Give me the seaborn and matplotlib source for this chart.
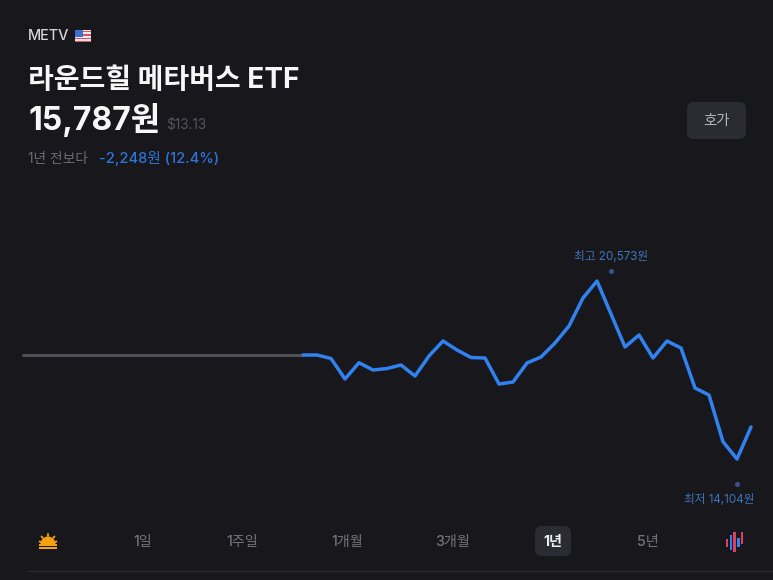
import pandas as pd
import matplotlib.pyplot as plt
from matplotlib.patches import FancyBboxPatch, Rectangle, Wedge
import seaborn as sns

BG = "#17171c"
BLUE = "#3182f0"
LABEL_BLUE = "#3f74ba"
GRAY_TEXT = "#6b6b73"

before_values = [18035] * 21
year_values = [
    18035, 18035, 17926, 17286, 17794, 17566, 17613, 17723, 17379, 18004,
    18472, 18191, 17957, 17941, 17129, 17192, 17785, 17972, 18409, 18940,
    19814, 20345, 19315, 18285, 18659, 17941, 18472, 18253, 17005, 16786,
    15328, 14788, 15787,
]
tab_labels = ["1일", "1주일", "1개월", "3개월", "1년", "5년"]
tab_centers = [143, 242, 347, 453, 553, 648]
candle_colors = ["#e0405e", "#3182f0", "#e0405e", "#3182f0", "#e0405e"]

W, H = 773, 580
sns.set_theme(style="dark", rc={"figure.facecolor": BG, "axes.facecolor": BG})
plt.rcParams["font.family"] = ["Inter", "Noto Sans CJK KR", "DejaVu Sans"]

fig = plt.figure(figsize=(W / 100, H / 100), dpi=100)

# price chart, spans the whole width
ax = fig.add_axes([0, (H - 510) / H, 1, 320 / H])
before = pd.DataFrame({"i": range(len(before_values)), "v": before_values})
year = pd.DataFrame({"i": range(20, 20 + len(year_values)), "v": year_values})
sns.lineplot(data=before, x="i", y="v", ax=ax, color="#4f4f56", lw=2.2)
sns.lineplot(data=year, x="i", y="v", ax=ax, color=BLUE, lw=2.5)
ax.set_xlim(-23 / 14, 750 / 14)
ax.set_ylim(13196, 23186)
ax.axis("off")

hi = year.loc[year["v"].idxmax()]
lo = year.loc[year["v"].idxmin()]
ax.annotate("최고 20,573원", (hi["i"], hi["v"]), xytext=(10, 17.6), textcoords="offset points",
            ha="center", va="center", color=LABEL_BLUE, fontsize=8.4)
ax.plot(hi["i"] + 1, hi["v"] + 10 * 31.22, "o", ms=2.6, color="#35558a")
ax.plot(lo["i"], lo["v"] - 25 * 31.22, "o", ms=2.6, color="#35558a")
ax.annotate("최저 14,104원", (lo["i"], lo["v"]), xytext=(-13, -29.8), textcoords="offset points",
            ha="center", va="center", color=LABEL_BLUE, fontsize=8.4)

# overlay in pixel coordinates for the app chrome
ui = fig.add_axes([0, 0, 1, 1], facecolor="none")
ui.set_xlim(0, W)
ui.set_ylim(H, 0)
ui.axis("off")

ui.text(28, 36.5, "METV", color="#d4d4d8", fontsize=10.4, va="center", fontweight="medium")
# flag
ui.add_patch(Rectangle((75, 30), 16, 12, color="#e9e9ee", lw=0))
for y in (30.5, 34, 37.5, 40.5):
    ui.add_patch(Rectangle((75, y), 16, 1.5, color="#e4525e", lw=0))
ui.add_patch(Rectangle((75, 30), 8, 6.5, color="#3f6fd0", lw=0))

ui.text(28, 80.5, "라운드힐 메타버스 ETF", color="#f7f7f8", fontsize=20.2, va="center", fontweight="bold")
ui.text(28, 120, "15,787원", color="#f7f7f8", fontsize=23, va="center", fontweight="bold")
ui.text(166, 124.5, "$13.13", color="#55555c", fontsize=9.8, va="center")
ui.text(28, 159, "1년 전보다", color=GRAY_TEXT, fontsize=9.9, va="center")
ui.text(99, 159, "-2,248원 (12.4%)", color="#2f74d8", fontsize=10.6, va="center", fontweight="medium")

# 호가 button
ui.add_patch(FancyBboxPatch((691, 106), 51, 29, boxstyle="round,pad=4,rounding_size=7",
                            fc="#2b2c33", ec="none"))
ui.text(716.5, 120.5, "호가", color="#b4b4ba", fontsize=10.4, ha="center", va="center", fontweight="medium")

# range tabs
ui.add_patch(FancyBboxPatch((539, 530), 28, 22, boxstyle="round,pad=4,rounding_size=7",
                            fc="#2b2c33", ec="none"))
for label, cx in zip(tab_labels, tab_centers):
    active = label == "1년"
    ui.text(cx, 542, label, color="#f0f0f2" if active else "#737379", fontsize=10.2, ha="center",
            va="center", fontweight="bold" if active else "medium")

# sunrise icon
ui.add_patch(Wedge((48, 544), 7.5, 180, 360, fc="#f5a20c", ec="none"))
ui.add_patch(Rectangle((39, 544), 18, 1.8, color="#f5a20c", lw=0))
ui.add_patch(Rectangle((39, 547), 18, 1.8, color="#f5a20c", lw=0))
for x0, y0, x1, y1 in [(48, 534, 48, 535.5), (41.5, 536.5, 42.8, 537.8), (54.5, 536.5, 53.2, 537.8),
                       (39.5, 541.5, 41, 542), (56.5, 541.5, 55, 542)]:
    ui.plot([x0, x1], [y0, y1], color="#f5a20c", lw=1.3)

# candle icon
for x, top, bot, c in zip([726.7, 730.7, 734.5, 738.5, 742.3], [539, 535, 532, 538, 532],
                          [547, 550, 552, 547, 544], candle_colors):
    ui.add_patch(Rectangle((x - 1.2, top), 2.4, bot - top, color=c, lw=0))

ui.plot([28, W], [570.5, 570.5], color="#2c2c32", lw=0.8)

fig.savefig("out.png", dpi=100, facecolor=BG)
